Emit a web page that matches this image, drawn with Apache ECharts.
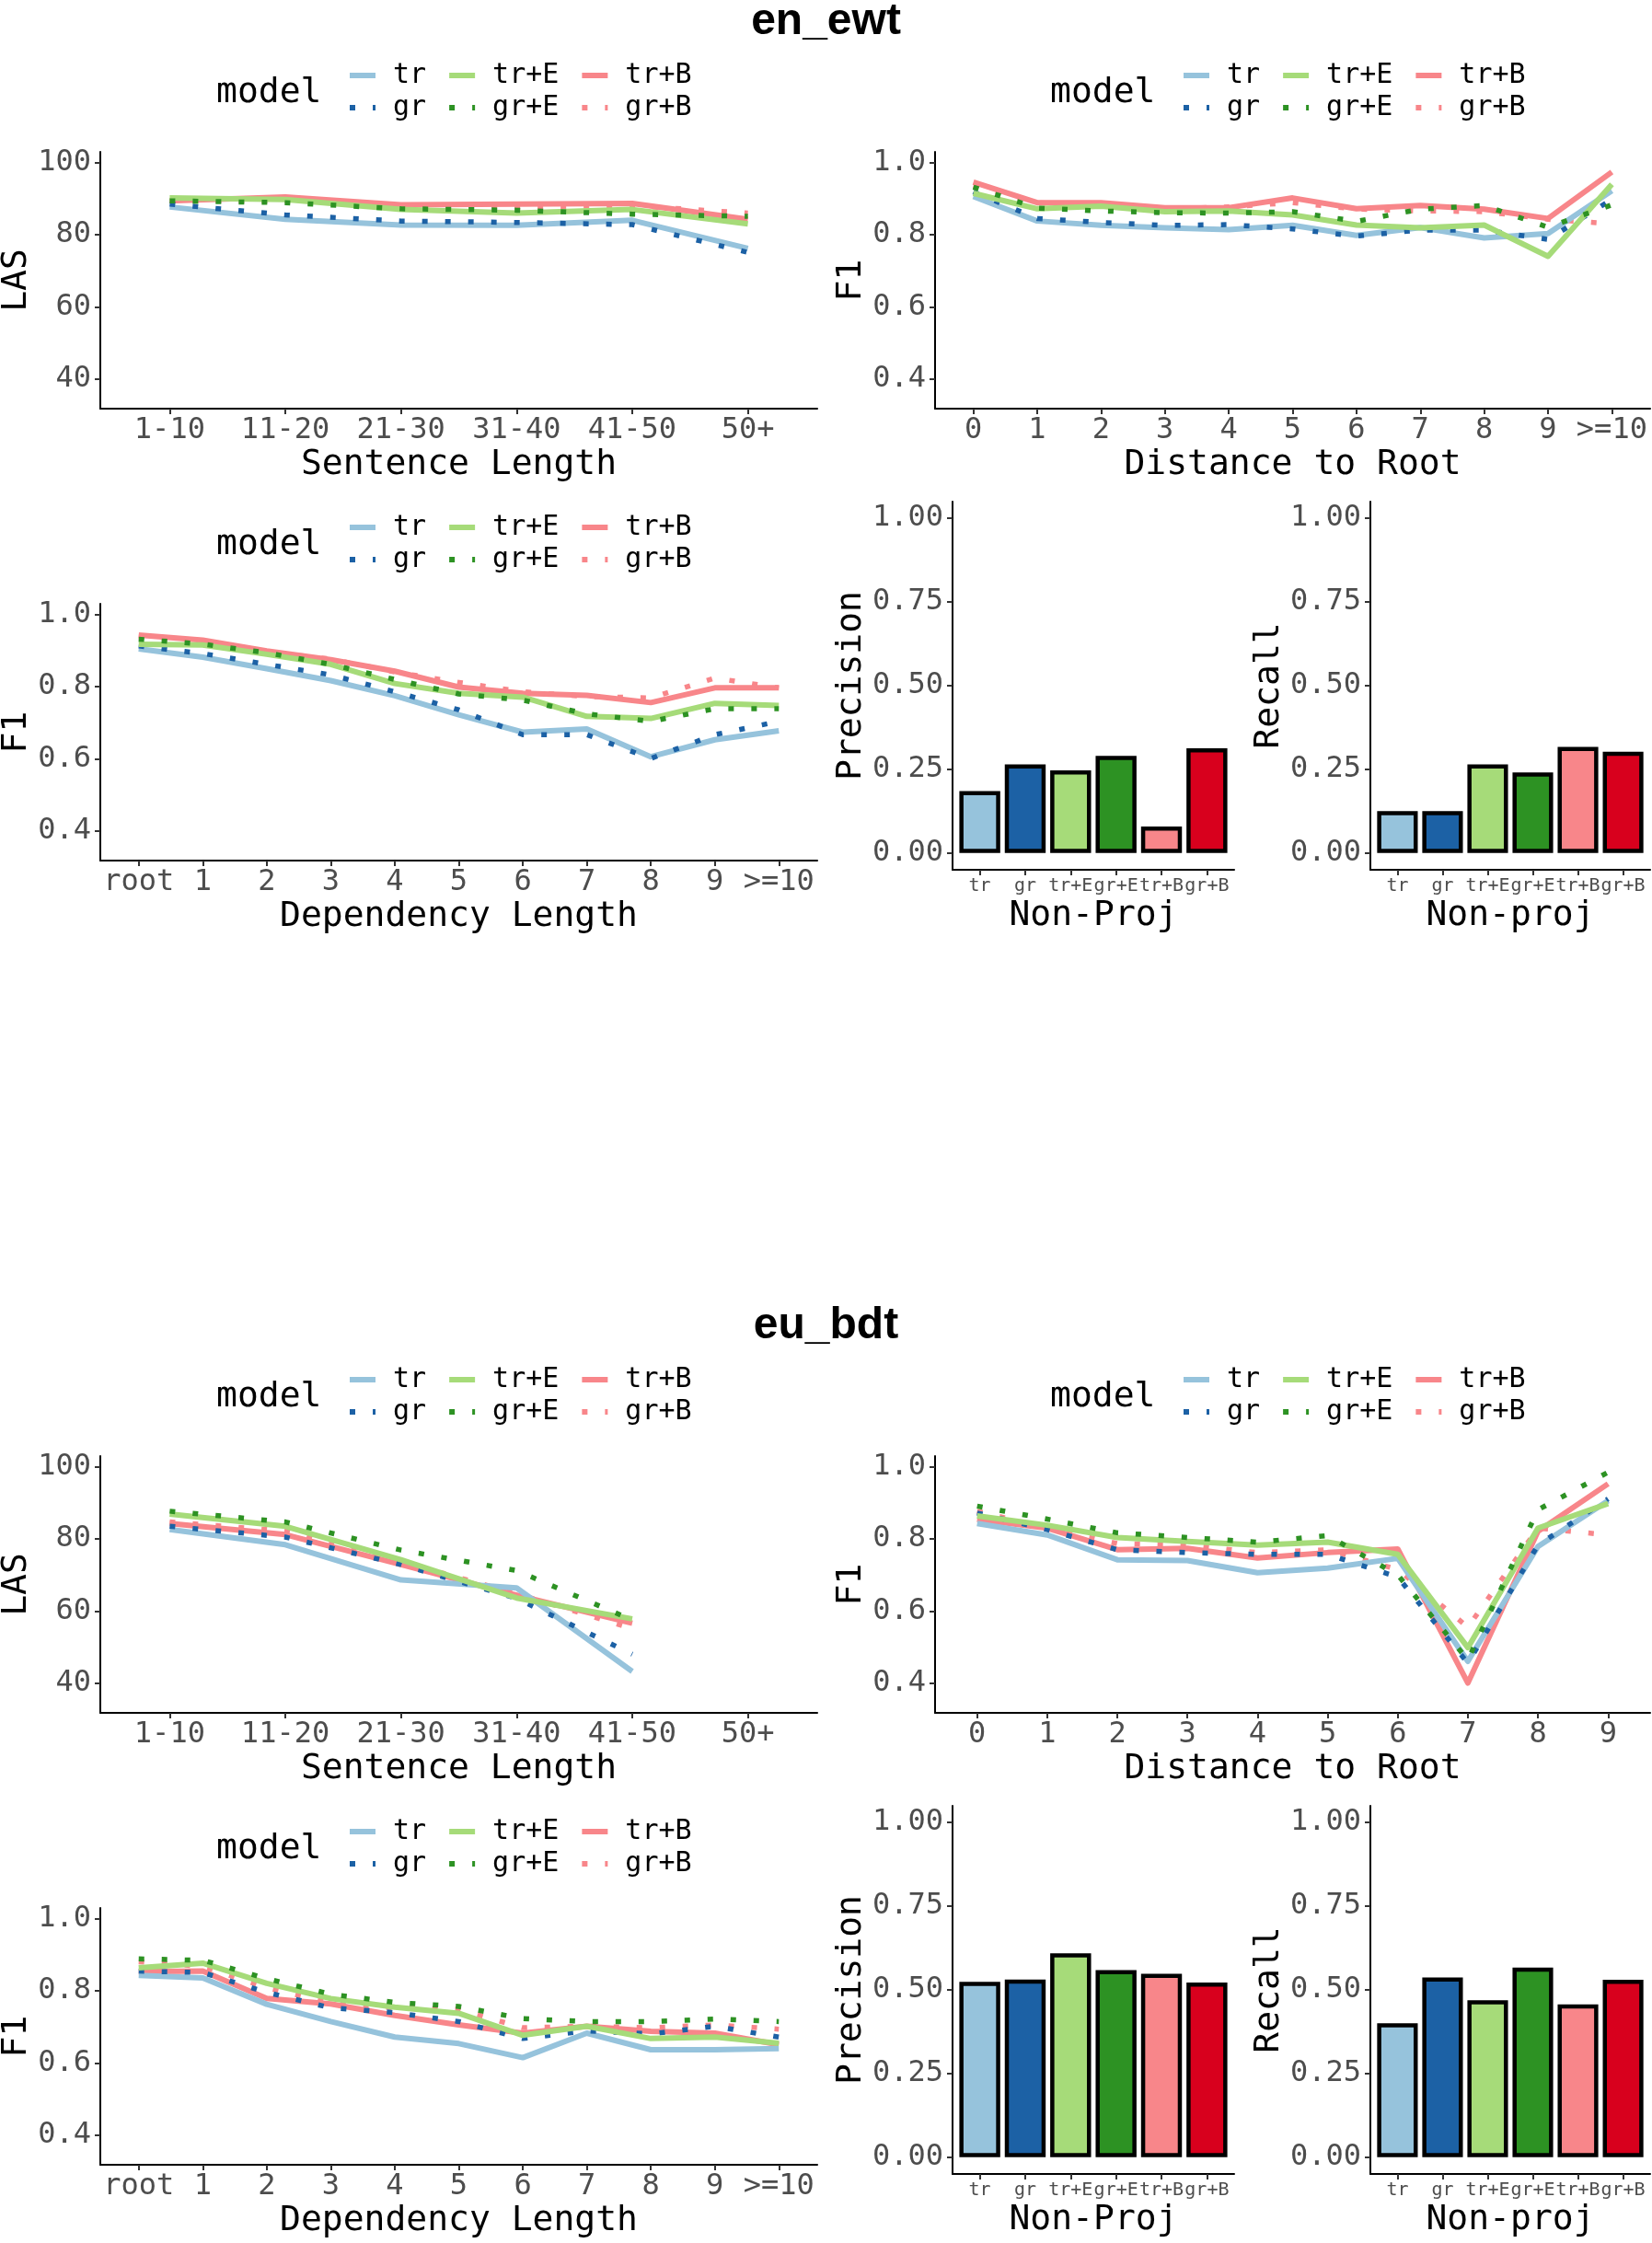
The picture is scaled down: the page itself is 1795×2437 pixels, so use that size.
<!DOCTYPE html>
<html><head><meta charset="utf-8">
<script src="https://cdn.jsdelivr.net/npm/echarts@6/dist/echarts.min.js"></script>
<style>html,body{margin:0;padding:0;background:#fff}#c{width:1795px;height:2437px}</style>
</head><body><div id="c"></div><script>
// ---------- categories ----------
const models = ['tr', 'gr', 'tr+E', 'gr+E', 'tr+B', 'gr+B'];
const sentLenCats = ['1-10', '11-20', '21-30', '31-40', '41-50', '50+'];
const depLenCats = ['root', '1', '2', '3', '4', '5', '6', '7', '8', '9', '>=10'];
const distCatsEn = ['0', '1', '2', '3', '4', '5', '6', '7', '8', '9', '>=10'];
const distCatsEu = ['0', '1', '2', '3', '4', '5', '6', '7', '8', '9'];
const lasTicks = [40, 60, 80, 100];
const f1Ticks = [0.4, 0.6, 0.8, 1.0];
const barTicks = [0, 0.25, 0.5, 0.75, 1.0];

// ---------- en_ewt ----------
const enLasTr  = [87.7, 84.3, 82.7, 82.6, 84.0, 76.2];
const enLasGr  = [88.5, 85.5, 83.8, 83.4, 82.8, 75.1];
const enLasTrE = [90.2, 89.8, 87.0, 86.0, 87.0, 83.0];
const enLasGrE = [89.4, 88.9, 87.2, 86.8, 85.7, 85.1];
const enLasTrB = [89.4, 90.5, 88.3, 88.5, 88.7, 84.3];
const enLasGrB = [89.4, 89.4, 87.4, 87.7, 88.1, 86.0];

const enDistTr  = [0.906, 0.838, 0.826, 0.819, 0.814, 0.826, 0.798, 0.820, 0.791, 0.803, 0.922];
const enDistGr  = [0.919, 0.845, 0.834, 0.826, 0.828, 0.816, 0.796, 0.813, 0.813, 0.787, 0.898];
const enDistTrE = [0.915, 0.872, 0.879, 0.864, 0.866, 0.855, 0.827, 0.819, 0.827, 0.740, 0.940];
const enDistGrE = [0.932, 0.874, 0.866, 0.861, 0.860, 0.864, 0.837, 0.871, 0.881, 0.821, 0.883];
const enDistTrB = [0.946, 0.889, 0.889, 0.875, 0.875, 0.902, 0.872, 0.881, 0.871, 0.845, 0.974];
const enDistGrB = [0.936, 0.888, 0.885, 0.872, 0.877, 0.889, 0.871, 0.866, 0.864, 0.843, 0.830];

const enDepTr  = [0.905, 0.882, 0.850, 0.817, 0.775, 0.722, 0.674, 0.683, 0.606, 0.653, 0.678];
const enDepGr  = [0.913, 0.892, 0.862, 0.833, 0.786, 0.736, 0.667, 0.667, 0.601, 0.667, 0.704];
const enDepTrE = [0.918, 0.916, 0.890, 0.862, 0.809, 0.782, 0.771, 0.718, 0.712, 0.754, 0.748];
const enDepGrE = [0.932, 0.918, 0.894, 0.862, 0.820, 0.780, 0.763, 0.725, 0.704, 0.739, 0.739];
const enDepTrB = [0.943, 0.929, 0.899, 0.875, 0.843, 0.799, 0.782, 0.776, 0.756, 0.797, 0.797];
const enDepGrB = [0.939, 0.926, 0.896, 0.877, 0.841, 0.812, 0.786, 0.773, 0.769, 0.824, 0.797];

const enPrecision = [0.185, 0.265, 0.247, 0.290, 0.079, 0.313];
const enRecall    = [0.125, 0.125, 0.265, 0.241, 0.317, 0.303];

// ---------- eu_bdt ----------
const euLasTr  = [82.6, 78.4, 68.6, 66.4, 43.2];
const euLasGr  = [83.5, 80.5, 72.9, 63.5, 48.0];
const euLasTrE = [86.9, 83.5, 74.2, 63.6, 57.8];
const euLasGrE = [87.7, 84.7, 76.9, 71.2, 57.5];
const euLasTrB = [84.3, 81.2, 72.9, 64.4, 56.6];
const euLasGrB = [84.7, 82.2, 73.7, 64.8, 55.1];

const euDistTr  = [0.843, 0.811, 0.742, 0.740, 0.706, 0.719, 0.746, 0.460, 0.779, 0.906];
const euDistGr  = [0.872, 0.826, 0.770, 0.762, 0.757, 0.757, 0.694, 0.455, 0.783, 0.911];
const euDistTrE = [0.864, 0.838, 0.804, 0.793, 0.783, 0.791, 0.757, 0.498, 0.830, 0.898];
const euDistGrE = [0.891, 0.855, 0.817, 0.804, 0.791, 0.809, 0.700, 0.464, 0.881, 0.985];
const euDistTrB = [0.854, 0.830, 0.770, 0.774, 0.747, 0.762, 0.772, 0.400, 0.821, 0.953];
const euDistGrB = [0.877, 0.830, 0.787, 0.783, 0.762, 0.770, 0.715, 0.555, 0.830, 0.811];

const euDepTr  = [0.843, 0.836, 0.763, 0.715, 0.672, 0.654, 0.615, 0.683, 0.637, 0.637, 0.640];
const euDepGr  = [0.855, 0.851, 0.796, 0.753, 0.740, 0.715, 0.668, 0.689, 0.681, 0.702, 0.672];
const euDepTrE = [0.864, 0.877, 0.821, 0.779, 0.755, 0.738, 0.677, 0.702, 0.668, 0.672, 0.655];
const euDepGrE = [0.889, 0.885, 0.834, 0.791, 0.768, 0.757, 0.723, 0.715, 0.715, 0.722, 0.715];
const euDepTrB = [0.853, 0.855, 0.779, 0.764, 0.732, 0.706, 0.683, 0.702, 0.688, 0.683, 0.651];
const euDepGrB = [0.881, 0.868, 0.809, 0.766, 0.753, 0.749, 0.698, 0.702, 0.698, 0.706, 0.694];

const euPrecision = [0.524, 0.531, 0.609, 0.559, 0.548, 0.522];
const euRecall    = [0.400, 0.537, 0.469, 0.567, 0.457, 0.530];

// ---------- styles ----------
const MONO = '"DejaVu Sans Mono", monospace';
const lineColor = {'tr': '#96C3DC', 'gr': '#1C61A5', 'tr+E': '#A6DB79', 'gr+E': '#2D9223', 'tr+B': '#F8868A', 'gr+B': '#F8868A'};
const barColor = ['#96C3DC', '#1C61A5', '#A6DB79', '#2D9223', '#F8868A', '#D8001D'];
const isDotted = {'tr': false, 'gr': true, 'tr+E': false, 'gr+E': true, 'tr+B': false, 'gr+B': true};
const drawOrder = ['tr+B', 'gr+B', 'tr', 'gr', 'tr+E', 'gr+E'];

const option = {
  backgroundColor: '#ffffff', animation: false,
  grid: [], xAxis: [], yAxis: [], series: [], legend: [], graphic: []
};

function axisCommon() {
  return {
    splitLine: {show: false},
    axisLine: {show: true, onZero: false, lineStyle: {color: '#000', width: 2}},
  };
}

function addGrid(left, top, width, height) {
  option.grid.push({left: left, top: top, width: width, height: height, outerBoundsMode: 'none', containLabel: false});
  return option.grid.length - 1;
}

function addXAxis(gi, cats, name, labelSize, nameGap) {
  const idx = cats.map((_, i) => i);
  option.xAxis.push(Object.assign(axisCommon(), {
    type: 'value', gridIndex: gi, min: -0.6, max: cats.length - 0.4,
    axisTick: {show: true, customValues: idx, length: 6, lineStyle: {color: '#333', width: 2}},
    axisLabel: {show: true, customValues: idx, formatter: v => cats[Math.round(v)],
      fontFamily: MONO, fontSize: labelSize, color: '#4D4D4D', margin: 8},
    name: name, nameLocation: 'middle', nameGap: nameGap,
    nameTextStyle: {fontFamily: MONO, fontSize: 38, color: '#000'}
  }));
}

function addYAxis(gi, min, max, ticks, fmt, name, nameGap) {
  option.yAxis.push(Object.assign(axisCommon(), {
    type: 'value', gridIndex: gi, min: min, max: max,
    axisTick: {show: true, customValues: ticks, length: 6, lineStyle: {color: '#333', width: 2}},
    axisLabel: {show: true, customValues: ticks, formatter: fmt,
      fontFamily: MONO, fontSize: 32, color: '#4D4D4D', margin: 10},
    name: name, nameLocation: 'middle', nameRotate: 90, nameGap: nameGap,
    nameTextStyle: {fontFamily: MONO, fontSize: 38, color: '#000'}
  }));
}

function addLegend(left, modelLeft, rowTop) {
  option.graphic.push({type: 'text', left: modelLeft, top: rowTop,
    style: {text: 'model', font: '38px "DejaVu Sans Mono"', fill: '#000'}});
  const rows = [['tr', 'tr+E', 'tr+B'], ['gr', 'gr+E', 'gr+B']];
  rows.forEach((r, k) => {
    option.legend.push({
      left: left, top: rowTop + k * 35 - 15, orient: 'horizontal', padding: 0,
      itemGap: 22, itemWidth: 28, itemHeight: 10, selectedMode: false, data: r,
      textStyle: {fontFamily: MONO, fontSize: 30, color: '#000', lineHeight: 30, padding: [0, 0, 0, 14]},
      itemStyle: {opacity: 0},
      lineStyle: {width: 6}
    });
  });
}

function addLinePanel(p) {
  const gi = addGrid(p.left, p.top, p.width, p.height);
  addXAxis(gi, p.cats, p.xName, 32, 42);
  addYAxis(gi, p.yMin, p.yMax, p.yTicks, p.yFmt, p.yName, 71);
  drawOrder.forEach(m => {
    const vals = p.data[m];
    const dotted = isDotted[m];
    option.series.push({
      type: 'line', name: m, xAxisIndex: gi, yAxisIndex: gi, symbol: 'none', silent: true,
      data: vals.map((v, i) => [i, v]),
      lineStyle: {color: lineColor[m], width: dotted ? 5.5 : 6, type: dotted ? [6, 19] : 'solid', cap: 'butt', join: 'round'}
    });
  });
  addLegend(p.legendLeft, p.modelLeft, p.legendTop);
}

function addBarPanel(p) {
  const gi = addGrid(p.left, p.top, p.width, p.height);
  addXAxis(gi, models, p.xName, 20, 31);
  addYAxis(gi, -0.05, 1.05, barTicks, v => v.toFixed(2), p.yName, 91);
  option.series.push({
    type: 'bar', xAxisIndex: gi, yAxisIndex: gi, barWidth: '90%', silent: true,
    data: p.values.map((v, i) => ({value: [i, v], itemStyle: {color: barColor[i]}})),
    itemStyle: {borderColor: '#000', borderWidth: 4.5}
  });
}

const f1Fmt = v => v.toFixed(1);
const lasFmt = v => String(v);

function addBlock(off, title, d) {
  option.graphic.push({type: 'text', left: 'center', top: off + 0,
    style: {text: title, font: 'bold 48px "Liberation Sans", Arial, sans-serif', fill: '#000'}});
  addLinePanel({left: 109, top: 165 + off, width: 779, height: 279, cats: sentLenCats,
    yMin: 31.7, yMax: 103, yTicks: lasTicks, yFmt: lasFmt, xName: 'Sentence Length', yName: 'LAS',
    data: d.las, legendLeft: 377, modelLeft: 235, legendTop: 82 + off});
  addLinePanel({left: 1016, top: 165 + off, width: 777, height: 279, cats: d.distCats,
    yMin: 0.317, yMax: 1.03, yTicks: f1Ticks, yFmt: f1Fmt, xName: 'Distance to Root', yName: 'F1',
    data: d.dist, legendLeft: 1283, modelLeft: 1141, legendTop: 82 + off});
  addLinePanel({left: 109, top: 656 + off, width: 779, height: 279, cats: depLenCats,
    yMin: 0.318, yMax: 1.03, yTicks: f1Ticks, yFmt: f1Fmt, xName: 'Dependency Length', yName: 'F1',
    data: d.dep, legendLeft: 377, modelLeft: 235, legendTop: 573 + off});
  addBarPanel({left: 1035, top: 545 + off, width: 306, height: 400, xName: 'Non-Proj', yName: 'Precision', values: d.prec});
  addBarPanel({left: 1489, top: 545 + off, width: 304, height: 400, xName: 'Non-proj', yName: 'Recall', values: d.rec});
}

addBlock(0, 'en_ewt', {
  distCats: distCatsEn,
  las: {'tr': enLasTr, 'gr': enLasGr, 'tr+E': enLasTrE, 'gr+E': enLasGrE, 'tr+B': enLasTrB, 'gr+B': enLasGrB},
  dist: {'tr': enDistTr, 'gr': enDistGr, 'tr+E': enDistTrE, 'gr+E': enDistGrE, 'tr+B': enDistTrB, 'gr+B': enDistGrB},
  dep: {'tr': enDepTr, 'gr': enDepGr, 'tr+E': enDepTrE, 'gr+E': enDepGrE, 'tr+B': enDepTrB, 'gr+B': enDepGrB},
  prec: enPrecision, rec: enRecall
});
addBlock(1417, 'eu_bdt', {
  distCats: distCatsEu,
  las: {'tr': euLasTr, 'gr': euLasGr, 'tr+E': euLasTrE, 'gr+E': euLasGrE, 'tr+B': euLasTrB, 'gr+B': euLasGrB},
  dist: {'tr': euDistTr, 'gr': euDistGr, 'tr+E': euDistTrE, 'gr+E': euDistGrE, 'tr+B': euDistTrB, 'gr+B': euDistGrB},
  dep: {'tr': euDepTr, 'gr': euDepGr, 'tr+E': euDepTrE, 'gr+E': euDepGrE, 'tr+B': euDepTrB, 'gr+B': euDepGrB},
  prec: euPrecision, rec: euRecall
});

const chart = echarts.init(document.getElementById('c'), null, {renderer: 'canvas', width: 1795, height: 2437});
chart.setOption(option);
</script></body></html>
